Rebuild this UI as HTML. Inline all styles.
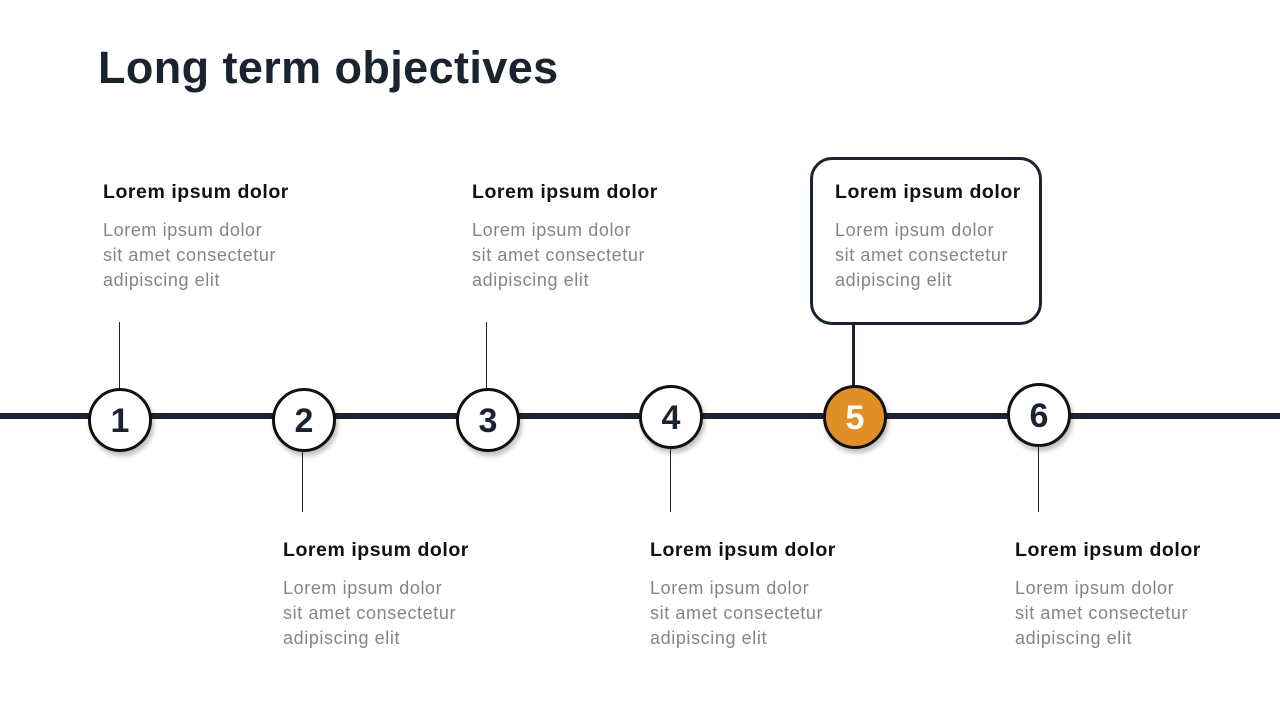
<!DOCTYPE html>
<html><head><style>
body{margin:0;width:1280px;height:720px;background:#fff;position:relative;overflow:hidden;font-family:"Liberation Sans",sans-serif}
.t{position:absolute;left:98px;top:42px;font-size:45px;font-weight:bold;color:#1b2331;letter-spacing:0.4px}
.blk{position:absolute;width:260px}
.h{font-size:19.5px;font-weight:bold;color:#111;height:38px;line-height:24px;letter-spacing:0.55px}
.b{font-size:18px;color:#858585;line-height:25px;letter-spacing:0.6px}
.line{position:absolute;left:0;top:413px;width:1280px;height:6px;background:#1b2331}
.v{position:absolute;width:1px;background:#1b2331}
.c{position:absolute;width:58px;height:58px;border:3px solid #111;border-radius:50%;background:#fff;box-shadow:2px 4px 5px rgba(0,0,0,.25);text-align:center;line-height:60px;font-size:34px;font-weight:bold;color:#1b2331}
.box{position:absolute;left:810px;top:157px;width:226px;height:162px;border:3px solid #1b2331;border-radius:22px}
</style></head><body>
<div class="t">Long term objectives</div>
<div class="line"></div>
<div class="v" style="left:119px;top:322px;height:66px"></div>
<div class="v" style="left:302px;top:450px;height:62px"></div>
<div class="v" style="left:486px;top:322px;height:66px"></div>
<div class="v" style="left:670px;top:447px;height:65px"></div>
<div class="v" style="left:1038px;top:445px;height:67px"></div>
<div class="box"></div>
<div style="position:absolute;left:852px;top:322px;width:3px;height:64px;background:#1b2331"></div>
<div class="c" style="left:88px;top:388px">1</div>
<div class="c" style="left:272px;top:388px">2</div>
<div class="c" style="left:456px;top:388px">3</div>
<div class="c" style="left:639px;top:385px">4</div>
<div class="c" style="left:823px;top:385px;background:#e08e26;color:#fff">5</div>
<div class="c" style="left:1007px;top:383px">6</div>
<div class="blk" style="left:103px;top:180px"><div class="h">Lorem ipsum dolor</div><div class="b">Lorem ipsum dolor<br>sit amet consectetur<br>adipiscing elit</div></div>
<div class="blk" style="left:472px;top:180px"><div class="h">Lorem ipsum dolor</div><div class="b">Lorem ipsum dolor<br>sit amet consectetur<br>adipiscing elit</div></div>
<div class="blk" style="left:835px;top:180px"><div class="h">Lorem ipsum dolor</div><div class="b">Lorem ipsum dolor<br>sit amet consectetur<br>adipiscing elit</div></div>
<div class="blk" style="left:283px;top:538px"><div class="h">Lorem ipsum dolor</div><div class="b">Lorem ipsum dolor<br>sit amet consectetur<br>adipiscing elit</div></div>
<div class="blk" style="left:650px;top:538px"><div class="h">Lorem ipsum dolor</div><div class="b">Lorem ipsum dolor<br>sit amet consectetur<br>adipiscing elit</div></div>
<div class="blk" style="left:1015px;top:538px"><div class="h">Lorem ipsum dolor</div><div class="b">Lorem ipsum dolor<br>sit amet consectetur<br>adipiscing elit</div></div>
</body></html>
